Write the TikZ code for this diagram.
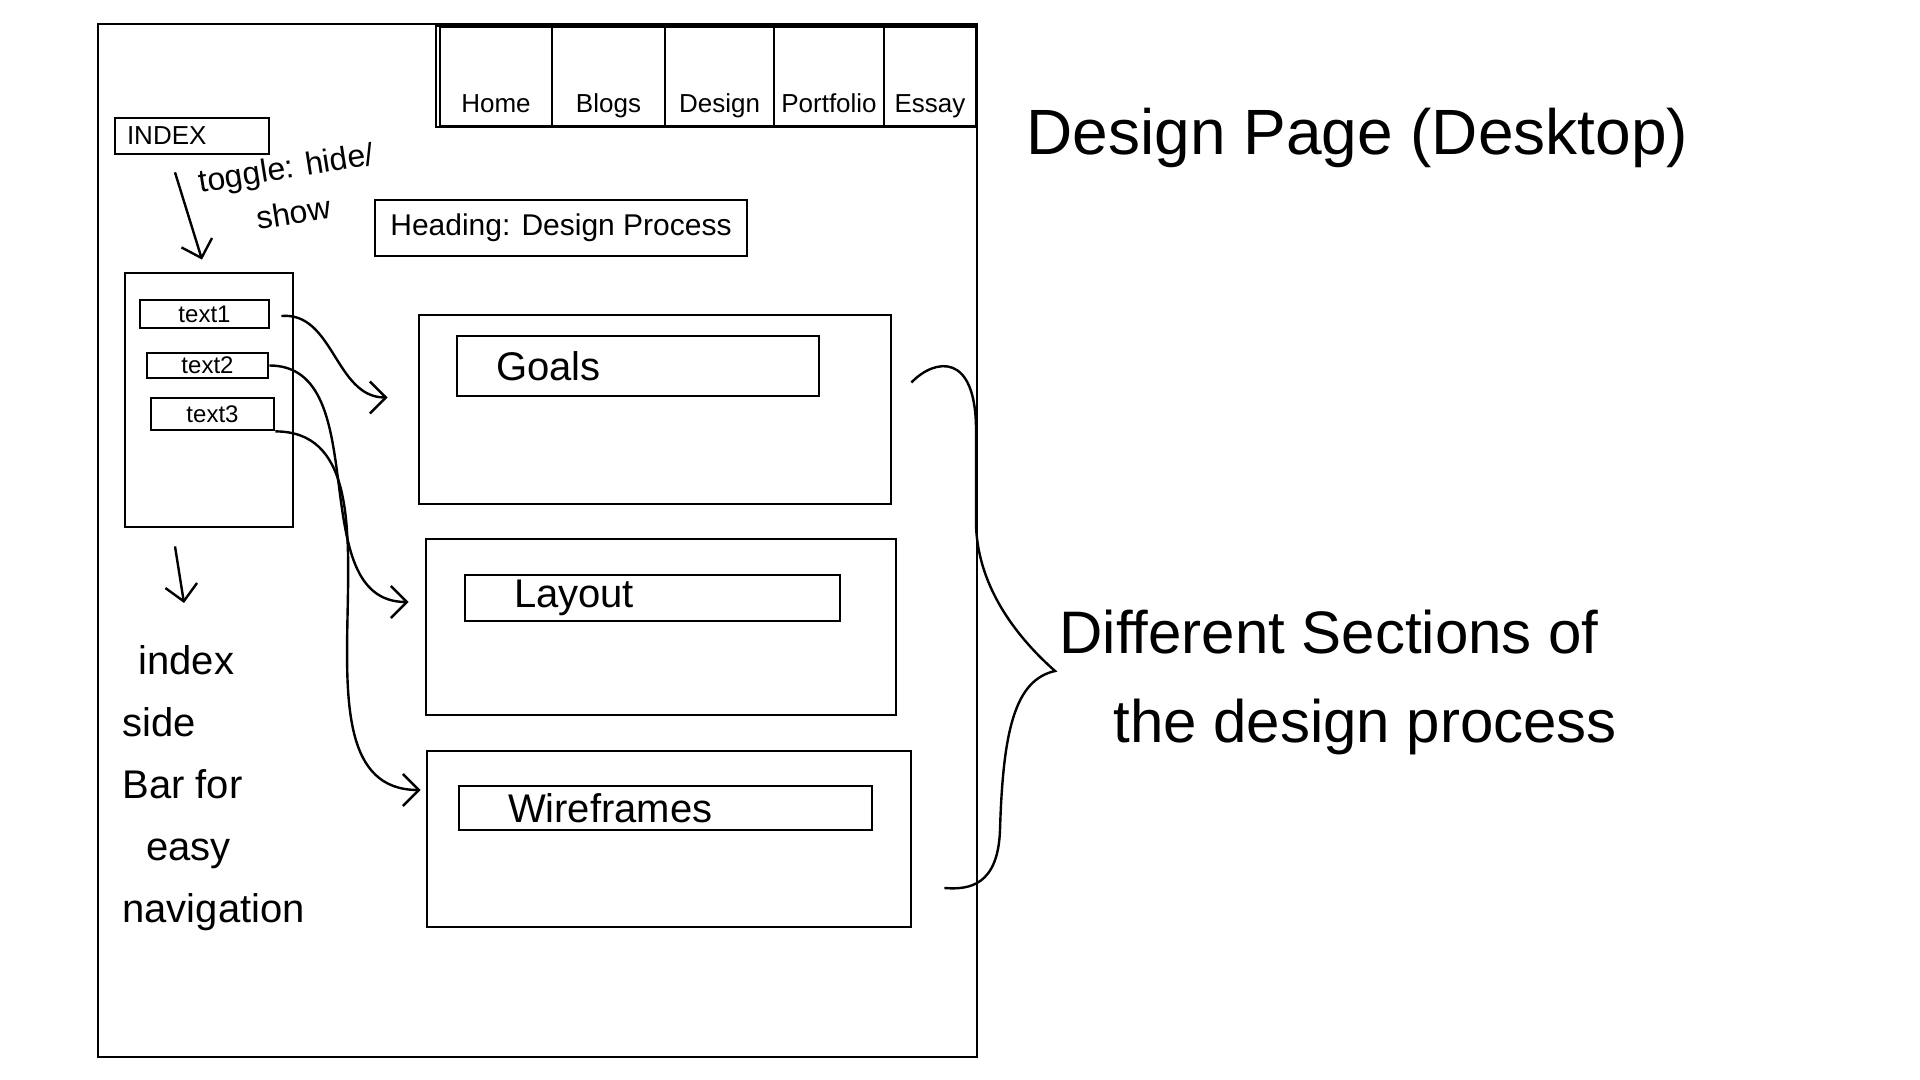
\documentclass[tikz,border=0pt]{standalone}
\usepackage{fontspec}
\setmainfont{Liberation Sans}
\usetikzlibrary{arrows.meta, positioning}
\tikzset{
    box/.style={rectangle, draw, line width=1.4pt, inner sep=0pt},
    tab/.style={box, outer sep=0pt, minimum height=49.5pt, text height=38pt, text depth=2pt, font=\fontsize{13}{15}\selectfont},
    item/.style={box, font=\fontsize{12}{14}\selectfont},
    section/.style={box, minimum height=30pt, align=left, font=\fontsize{20}{22}\selectfont},
    note/.style={inner sep=0pt, align=left},
    arrow/.style={-{Straight Barb[length=8pt, width=16pt]}, line width=1.2pt}
}
\begin{document}
\begin{tikzpicture}[x=0.5pt, y=-0.5pt]
    \useasboundingbox (0,0) rectangle (1920,1080);

    % page frame and nav
    \node (page) [box, minimum width=439.5pt, minimum height=516.5pt] at (537.5,540.5) {};
    \node (navbar) [box, minimum width=270pt, minimum height=50.5pt] at (706,76.5) {};
    \node (home) [tab, minimum width=56pt] at (496,76.5) {Home};
    \node (blogs) [tab, minimum width=56.5pt, right=0pt of home] {Blogs};
    \node (design) [tab, minimum width=54.5pt, right=0pt of blogs] {Design};
    \node (portfolio) [tab, minimum width=55pt, right=0pt of design] {Portfolio};
    \node (essay) [tab, minimum width=46pt, right=0pt of portfolio] {Essay};

    % index and sidebar
    \node (index) [box, minimum height=18pt, text width=65pt, inner xsep=6pt, align=left, font=\fontsize{13}{15}\selectfont] at (192,136) {INDEX};
    \node (toggle) [note, align=center, rotate=9, font=\fontsize{16}{23}\selectfont] at (290,190) {toggle: hide/\\show};
    \node (sidebar) [box, minimum width=84pt, minimum height=127pt] at (209,400) {};
    \node (text1) [item, minimum width=64.5pt, minimum height=14pt] at (204.5,314) {text1};
    \node (text2) [item, minimum width=60.5pt, minimum height=12.5pt] at (207.5,365.5) {text2};
    \node (text3) [item, minimum width=61.5pt, minimum height=16pt] at (212.5,414) {text3};
    \node (sidenote) [note, anchor=north west, font=\fontsize{20}{31}\selectfont] at (122,645) {\hspace{8pt}index\\side\\Bar for\\\hspace{12pt}easy\\navigation};

    % heading and sections
    \node (heading) [box, minimum width=186pt, minimum height=28pt, font=\fontsize{15}{17}\selectfont] at (561,228) {Heading: Design Process};
    \node (goals) [box, minimum width=236pt, minimum height=94.5pt] at (655,409.5) {};
    \node (goalsbar) [section, text width=142pt, inner xsep=19.5pt] at (638,366) {Goals};
    \node (layout) [box, minimum width=235pt, minimum height=88pt] at (661,627) {};
    \node (layoutbar) [section, text width=138.5pt, inner xsep=24.5pt, minimum height=23pt] at (652.5,598) {Layout};
    \node (wireframes) [box, minimum width=242pt, minimum height=88pt] at (669,839) {};
    \node (wireframesbar) [section, text width=157.5pt, inner xsep=24.5pt, minimum height=22pt] at (665.5,808) {Wireframes};

    % notes on the right
    \node (title) [note, anchor=west, font=\fontsize{32}{38}\selectfont] at (1026,138) {Design Page (Desktop)};
    \node (sections) [note, anchor=north west, font=\fontsize{30}{44.5}\selectfont] at (1059,610) {Different Sections of\\\hspace{27pt}the design process};
    \coordinate (brace tip) at ([shift={(-4,61)}]sections.north west);

    \draw[arrow] ([shift={(-17,17)}]index.south) -- ([shift={(-7,-12)}]sidebar.north);
    \draw[arrow] ([shift={(-34,18)}]sidebar.south) -- ([shift={(62,-42)}]sidenote.north west);
    \draw[arrow] ([shift={(11,2)}]text1.east) to[out=5, in=180] ([shift={(-30,-12)}]goals.west);
    \draw[arrow] (text2.east) to[out=0, in=180] ([shift={(-16,-25)}]layout.west);
    \draw[arrow] (text3.south east) to[out=0, in=180] ([shift={(-5,-49)}]wireframes.west);
    \draw[line width=1.2pt] ([shift={(19,-27)}]goals.east) .. controls (935,358) and (976,352) .. (976,430)
        -- (976,525) .. controls (978,590) and (1020,640) .. (brace tip)
        .. controls (1015,680) and (1003,730) .. (1000,830)
        .. controls (998,885) and (970,890) .. ([shift={(32,49)}]wireframes.east);
\end{tikzpicture}
\end{document}
